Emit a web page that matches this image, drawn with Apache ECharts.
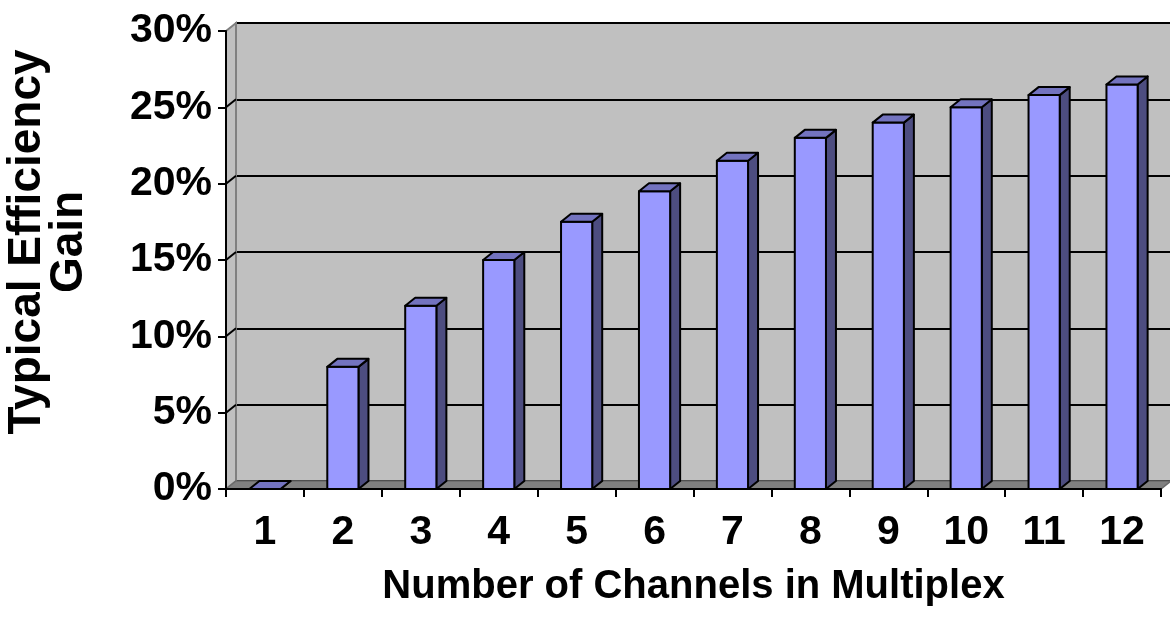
<!DOCTYPE html>
<html>
<head>
<meta charset="utf-8">
<script src="https://cdn.jsdelivr.net/npm/echarts@6/dist/echarts.min.js"></script>
<style>html,body{margin:0;padding:0;background:#fff;}#c{width:1170px;height:621px;}</style>
</head>
<body>
<div id="c"></div>
<script>
// ---- data ----
const categories = ['1', '2', '3', '4', '5', '6', '7', '8', '9', '10', '11', '12'];
const gains = [0, 0.08, 0.12, 0.15, 0.175, 0.195, 0.215, 0.23, 0.24, 0.25, 0.258, 0.265];
const yMin = 0, yMax = 0.3, yStep = 0.05;
const yTickValues = [0, 0.05, 0.1, 0.15, 0.2, 0.25, 0.3];
const xTitle = 'Number of Channels in Multiplex';
const yTitle = 'Typical Efficiency\nGain';

// ---- layout ----
const FONT = 'Liberation Sans, Arial, sans-serif';
const DX = 10, DY = 8;           // 3D depth offset
const front = { left: 226, right: 9, top: 31, bottom: 132 };
const back = { left: front.left + DX, right: front.right - DX, top: front.top - DY, bottom: front.bottom + DY };

const chart = echarts.init(document.getElementById('c'), null, { renderer: 'canvas' });

function frameItem(params, api) {
  const cs = params.coordSys;
  const x0 = cs.x, x1 = cs.x + cs.width, yT = cs.y, yB = cs.y + cs.height;
  const children = [];
  children.push({ type: 'polygon', shape: { points: [[x0, yT], [x0 + DX, yT - DY], [x0 + DX, yB - DY], [x0, yB]] },
    style: { fill: '#c0c0c0', stroke: '#808080', lineWidth: 2 } });
  children.push({ type: 'polygon', shape: { points: [[x0, yB], [x0 + DX, yB - DY], [x1 + DX, yB - DY], [x1, yB]] },
    style: { fill: '#808080', stroke: '#6a6a6a', lineWidth: 1.5 } });
  yTickValues.forEach(function (v) {
    if (v === yMin || v === yMax) return;
    const p = api.coord([0, v]);
    children.push({ type: 'line', shape: { x1: x0, y1: p[1], x2: x0 + DX, y2: p[1] - DY },
      style: { stroke: '#000', lineWidth: 2 } });
  });
  return { type: 'group', children: children };
}

function barItem(params, api) {
  const top = api.coord([api.value(0), api.value(1)]);
  const base = api.coord([api.value(0), 0]);
  const bw = api.size([1, 0])[0] * 0.4;
  const l = top[0] - bw / 2, r = top[0] + bw / 2, yt = top[1], yb = base[1];
  const st = { stroke: '#000', lineWidth: 2, lineJoin: 'round' };
  return { type: 'group', children: [
    { type: 'polygon', shape: { points: [[r, yt], [r + DX, yt - DY], [r + DX, yb - DY], [r, yb]] },
      style: Object.assign({ fill: '#4d4d80' }, st) },
    { type: 'polygon', shape: { points: [[l, yb], [r, yb], [r, yt], [l, yt]] },
      style: Object.assign({ fill: '#9999ff' }, st) },
    { type: 'polygon', shape: { points: [[l, yt], [r, yt], [r + DX, yt - DY], [l + DX, yt - DY]] },
      style: Object.assign({ fill: '#7373bf' }, st) }
  ] };
}

const labelStyle = { fontFamily: FONT, fontWeight: 'bold', fontSize: 41, color: '#000' };

chart.setOption({
  animation: false,
  backgroundColor: '#fff',
  grid: [
    Object.assign({ show: true, backgroundColor: '#c0c0c0', borderColor: '#808080', borderWidth: 2, z: 0,
      outerBoundsMode: 'none', containLabel: false }, back),
    Object.assign({ show: false, outerBoundsMode: 'none', containLabel: false }, front)
  ],
  xAxis: [
    { gridIndex: 0, type: 'category', data: categories, show: false },
    { gridIndex: 1, type: 'category', data: categories, boundaryGap: true,
      axisLine: { lineStyle: { color: '#000', width: 2 } },
      axisTick: { show: true, length: 8, lineStyle: { color: '#000', width: 2 } },
      axisLabel: Object.assign({ margin: 23 }, labelStyle),
      name: xTitle, nameLocation: 'middle', nameGap: 78,
      nameTextStyle: Object.assign({}, labelStyle, { fontSize: 40 }),
      z: 10 }
  ],
  yAxis: [
    { gridIndex: 0, type: 'value', min: yMin, max: yMax, interval: yStep,
      axisLine: { show: false }, axisTick: { show: false }, axisLabel: { show: false },
      splitLine: { show: true, lineStyle: { color: '#000', width: 2 } } },
    { gridIndex: 1, type: 'value', min: yMin, max: yMax, interval: yStep,
      axisLine: { show: true, lineStyle: { color: '#000', width: 2 } },
      axisTick: { show: true, length: 8, lineStyle: { color: '#000', width: 2 } },
      axisLabel: Object.assign({ margin: 14, formatter: function (v) { return Math.round(v * 100) + '%'; } }, labelStyle),
      splitLine: { show: false }, z: 10 }
  ],
  graphic: [{
    type: 'text', x: 48, y: 242, rotation: Math.PI / 2, z: 10,
    style: { text: yTitle, fontFamily: FONT, fontWeight: 'bold', fontSize: 46, lineHeight: 42,
      fill: '#000', align: 'center', verticalAlign: 'middle' }
  }],
  series: [
    { type: 'custom', name: 'frame', xAxisIndex: 1, yAxisIndex: 1, z: 1, silent: true,
      data: [[0, 0]], renderItem: frameItem },
    { type: 'custom', name: 'gain', xAxisIndex: 1, yAxisIndex: 1, z: 3,
      data: gains.map(function (v, i) { return [i, v]; }), renderItem: barItem }
  ]
});
</script>
</body>
</html>
